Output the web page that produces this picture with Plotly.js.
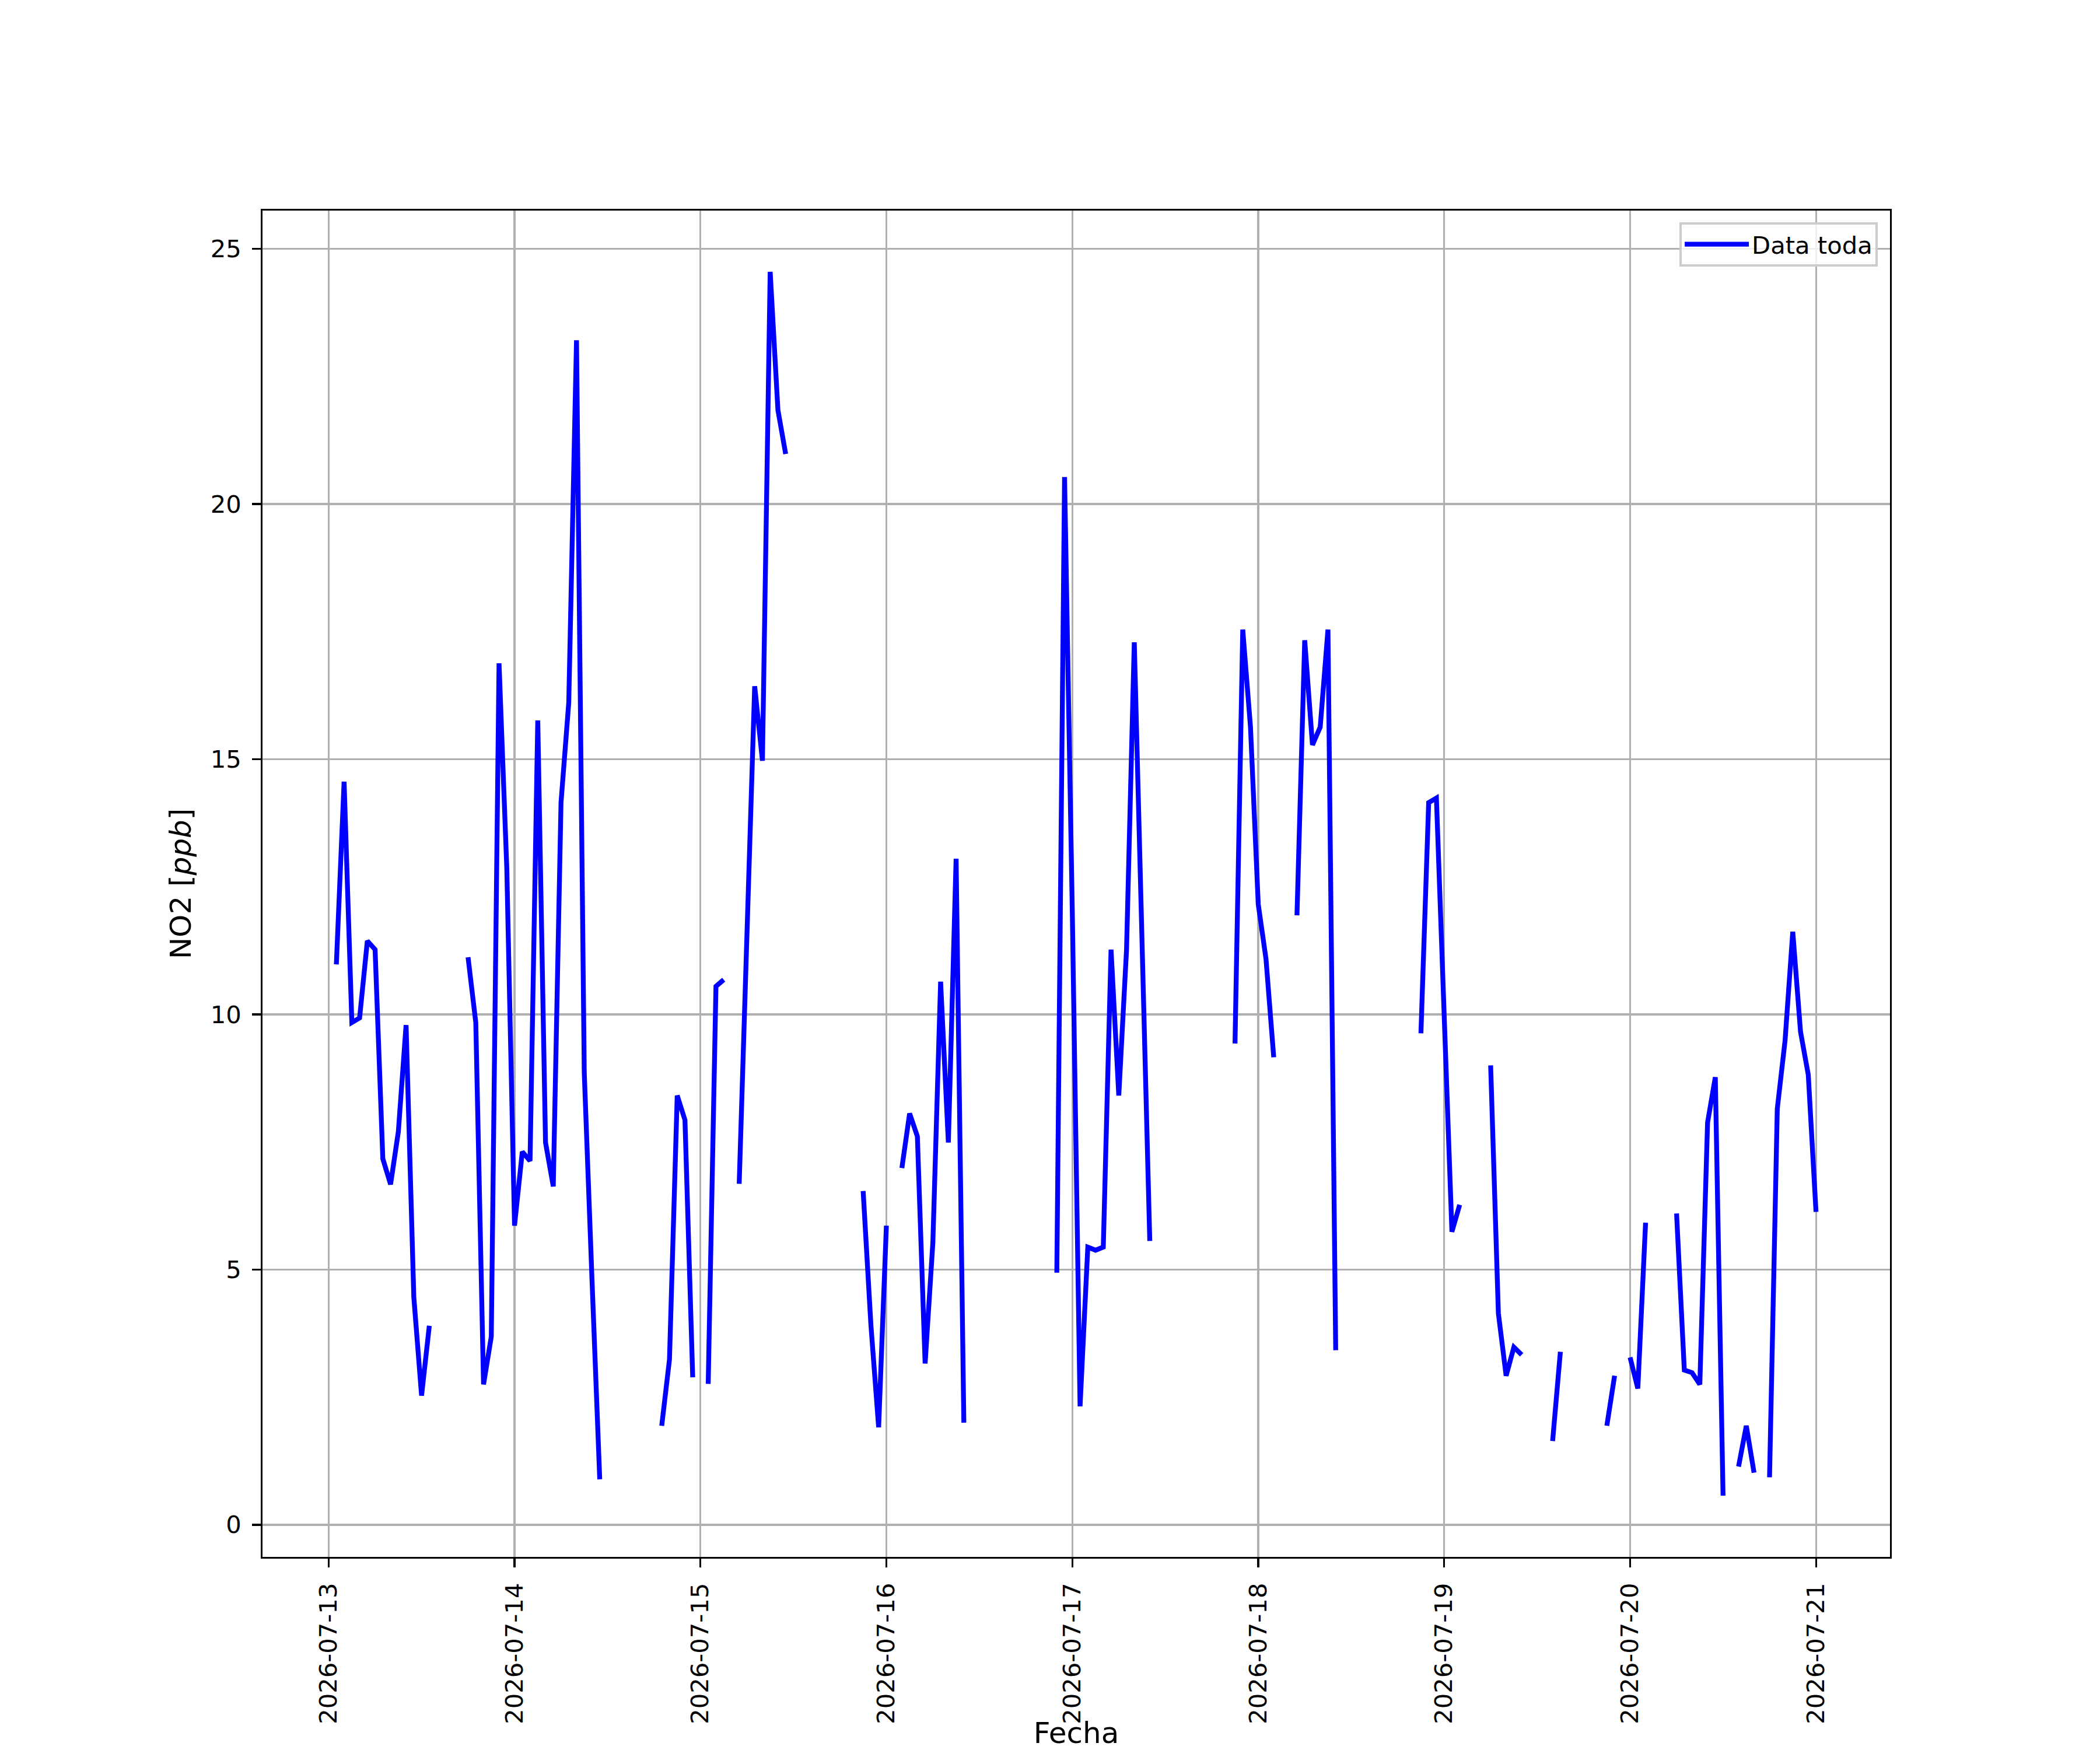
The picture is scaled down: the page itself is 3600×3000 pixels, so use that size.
<!DOCTYPE html>
<html>
<head>
<meta charset="utf-8">
<script src="https://cdn.plot.ly/plotly-3.0.1.min.js"></script>
<style>
  html, body { margin: 0; padding: 0; background: #fff; }
  #chart { width: 3600px; height: 3000px; }
</style>
</head>
<body>
<div id="chart"></div>
<script>
// Hourly NO2 readings (ppb), one array per day, hour 0..23; null = no data
const days = ['2026-07-13', '2026-07-14', '2026-07-15', '2026-07-16', '2026-07-17',
              '2026-07-18', '2026-07-19', '2026-07-20', '2026-07-21'];

const jul13 = [null, 10.98, 14.56, 9.84, 9.93, 11.44, 11.27, 7.17, 6.67, 7.70, 9.79, 4.46,
               2.53, 3.90, null, null, null, null, 11.12, 9.84, 2.75, 3.69, 16.88, 12.87];
const jul14 = [5.86, 7.31, 7.13, 15.76, 7.49, 6.63, 14.15, 16.11, 23.21, 8.86, 4.8, 0.89,
               null, null, null, null, null, null, null, 1.94, 3.24, 8.41, 7.93, 2.89];
const jul15 = [null, 2.76, 10.55, 10.68, null, 6.68, 11.27, 16.43, 14.97, 24.55, 21.84, 20.98,
               null, null, null, null, null, null, null, null, null, 6.54, 3.92, 1.91];
const jul16 = [5.86, null, 6.99, 8.06, 7.61, 3.16, 5.53, 10.64, 7.49, 13.05, 2.00, null,
               null, null, null, null, null, null, null, null, null, null, 4.94, 20.53];
const jul17 = [12.0, 2.32, 5.44, 5.38, 5.44, 11.27, 8.41, 11.27, 17.29, 11.6, 5.56, null,
               null, null, null, null, null, null, null, null, null, 9.43, 17.54, 15.63];
const jul18 = [12.16, 11.09, 9.16, null, null, 11.94, 17.33, 15.28, 15.63, 17.54, 3.42, null,
               null, null, null, null, null, null, null, null, null, 9.63, 14.15, 14.24];
const jul19 = [10.1, 5.74, 6.27, null, null, null, 9.00, 4.14, 2.92, 3.48, 3.33, null,
               null, null, 1.64, 3.39, null, null, null, null, null, 1.94, 2.92, null];
const jul20 = [3.28, 2.67, 5.92, null, null, null, 6.10, 3.03, 2.98, 2.75, 7.88, 8.77,
               0.57, null, 1.14, 1.94, 1.02, null, 0.93, 8.15, 9.48, 11.62, 9.66, 8.82];
const jul21 = [6.13];

const series = [jul13, jul14, jul15, jul16, jul17, jul18, jul19, jul20, jul21];

const yTicks = [0, 5, 10, 15, 20, 25];

// flatten to timestamps + values
const xs = [];
const ys = [];
series.forEach((vals, d) => {
    vals.forEach((v, h) => {
        xs.push(days[d] + ' ' + String(h).padStart(2, '0') + ':00');
        ys.push(v);
    });
});

const FONT = 'DejaVu Sans, Liberation Sans, sans-serif';
const FS = 41.7;     // 10pt @ 300dpi
const FS_TITLE = 50; // 12pt @ 300dpi

const traces = [{
    x: xs,
    y: ys,
    type: 'scatter',
    mode: 'lines',
    name: 'Data toda',
    connectgaps: false,
    line: { color: '#0000ff', width: 8.3 }
}];

const axisCommon = {
    showline: true,
    mirror: true,
    linecolor: '#000000',
    linewidth: 3.3,
    ticks: 'outside',
    ticklen: 14.6,
    tickwidth: 3.3,
    tickcolor: '#000000',
    showgrid: true,
    gridcolor: '#b0b0b0',
    gridwidth: 3.3,
    zeroline: false,
    automargin: false,
    tickfont: { family: FONT, size: FS, color: '#000000' }
};

const layout = {
    width: 3600,
    height: 3000,
    margin: { l: 450, r: 360, t: 361, b: 331, pad: 0 },
    paper_bgcolor: '#ffffff',
    plot_bgcolor: '#ffffff',
    font: { family: FONT, size: FS, color: '#000000' },
    showlegend: true,
    legend: {
        x: 0.9925, y: 0.9913,
        xanchor: 'right', yanchor: 'top',
        bgcolor: 'rgba(255,255,255,0.8)',
        bordercolor: '#cccccc',
        borderwidth: 4,
        itemwidth: 110,
        font: { family: FONT, size: FS, color: '#000000' }
    },
    xaxis: Object.assign({}, axisCommon, {
        type: 'date',
        range: ['2026-07-12 15:28', '2026-07-21 09:33'],
        tick0: '2026-07-13',
        dtick: 86400000,
        tickformat: '%Y-%m-%d',
        tickangle: -90,
        ticklabelstandoff: 10,
        title: { text: 'Fecha', font: { family: FONT, size: FS_TITLE }, standoff: 16 }
    }),
    yaxis: Object.assign({}, axisCommon, {
        range: [-0.63, 25.75],
        tickvals: yTicks,
        ticktext: yTicks.map(String),
        ticklabelstandoff: 10,
        title: { text: 'NO2 [<i>ppb</i>]', font: { family: FONT, size: FS_TITLE }, standoff: 18 }
    })
};

Plotly.newPlot('chart', traces, layout, { displayModeBar: false, staticPlot: true });
</script>
</body>
</html>
